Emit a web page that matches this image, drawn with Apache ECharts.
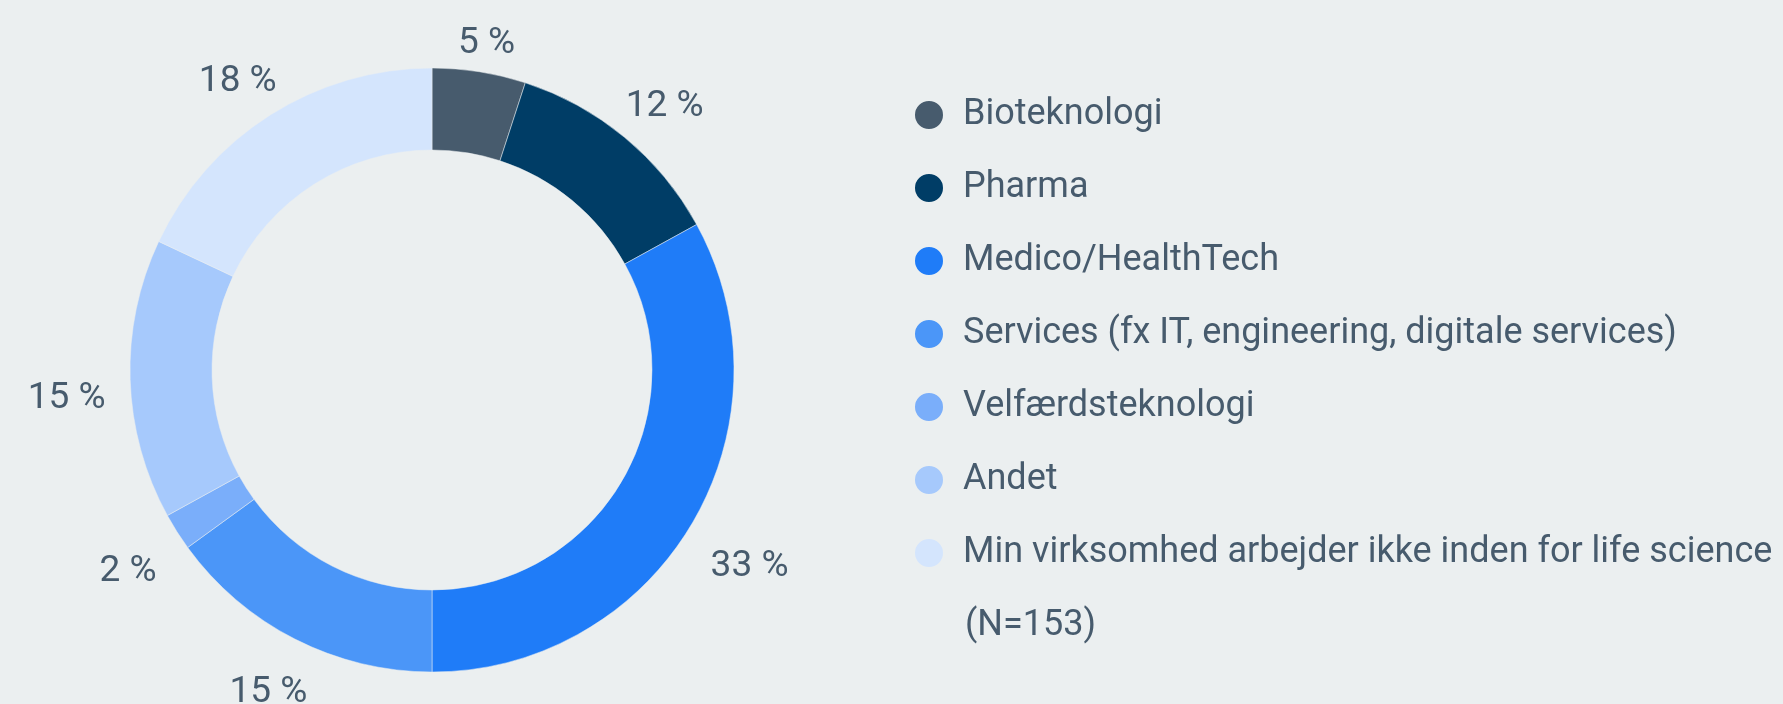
<!DOCTYPE html>
<html>
<head>
<meta charset="utf-8">
<script src="https://cdn.jsdelivr.net/npm/echarts@6/dist/echarts.min.js"></script>
<style>
  html, body { margin: 0; padding: 0; background: #ebeff0; }
  #chart { width: 1783px; height: 704px; }
</style>
</head>
<body>
<div id="chart"></div>
<script>
const categories = [
  'Bioteknologi',
  'Pharma',
  'Medico/HealthTech',
  'Services (fx IT, engineering, digitale services)',
  'Velfærdsteknologi',
  'Andet',
  'Min virksomhed arbejder ikke inden for life science'
];
const shares = [5, 12, 33, 15, 2, 15, 18];
const colors = ['#475b6d', '#003d66', '#1f7cf8', '#4b96f8', '#7aaefa', '#a6c9fc', '#d4e5fd'];
const note = '(N=153)';

const textColor = '#475b6d';
const font = 'Roboto';
const center = [432, 370];
const labelGap = 326; // distance from centre to the nearest edge of a label
const labelDrop = 18; // labels sit a little below their radial spot

// mid angle of every slice, clockwise from 12 o'clock
const total = shares.reduce((a, b) => a + b, 0);
let acc = 0;
const midAngles = shares.map(v => {
  const mid = (acc + v / 2) / total * Math.PI * 2;
  acc += v;
  return mid;
});

const chart = echarts.init(document.getElementById('chart'));

chart.setOption({
  backgroundColor: '#ebeff0',
  animation: false,
  color: colors,
  textStyle: { fontFamily: font, color: textColor },
  title: {
    text: note,
    left: 960,
    top: 603,
    textStyle: { fontFamily: font, fontSize: 36, fontWeight: 'normal', color: textColor }
  },
  legend: {
    orient: 'vertical',
    left: 908,
    top: 92,
    icon: 'circle',
    itemWidth: 30,
    itemHeight: 30,
    itemGap: 37,
    textStyle: { fontFamily: font, fontSize: 36, color: textColor, padding: [0, 0, 0, 14] },
    data: categories
  },
  series: [
    {
      type: 'pie',
      center: center,
      radius: [220, 302],
      startAngle: 90,
      avoidLabelOverlap: false,
      itemStyle: { borderColor: '#ebeff0', borderWidth: 0.5 },
      label: {
        position: 'outside',
        formatter: '{c} %',
        fontFamily: font,
        fontSize: 37,
        color: textColor
      },
      labelLine: { show: false, length: 28, length2: 0 },
      labelLayout: params => {
        const a = midAngles[params.dataIndex];
        const ux = Math.sin(a), uy = -Math.cos(a);
        const w = params.labelRect.width / 2, h = params.labelRect.height / 2;
        const d = labelGap + w * Math.abs(ux) + h * Math.abs(uy);
        return {
          x: center[0] + ux * d,
          y: center[1] + uy * d + labelDrop * (1 - Math.max(0, uy)),
          align: 'center',
          verticalAlign: 'middle'
        };
      },
      emphasis: { disabled: true },
      data: categories.map((name, i) => ({ name, value: shares[i] }))
    }
  ]
});

window.addEventListener('resize', () => chart.resize());
</script>
</body>
</html>
